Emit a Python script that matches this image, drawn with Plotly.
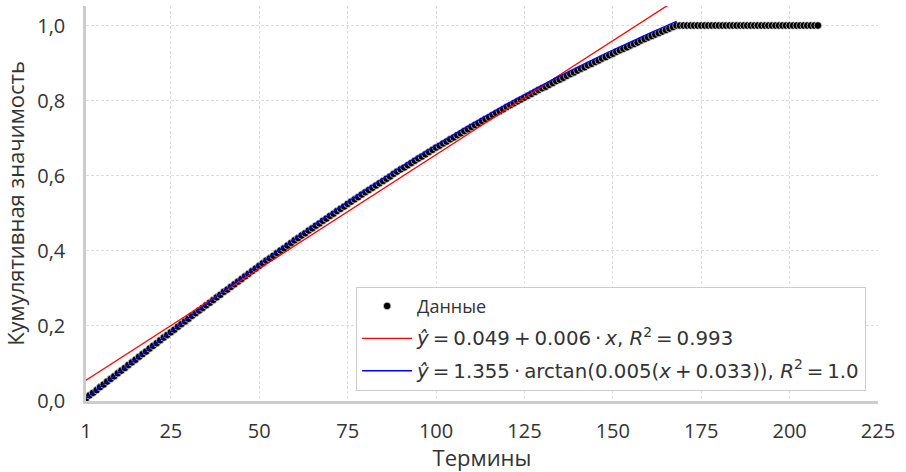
import numpy as np
import plotly.graph_objects as go

# ---- data ----
rising = [
    0.007, 0.015, 0.022, 0.029, 0.037, 0.044, 0.052, 0.059, 0.066, 0.074,
    0.081, 0.088, 0.096, 0.103, 0.110, 0.118, 0.125, 0.132, 0.140, 0.147,
    0.154, 0.162, 0.169, 0.176, 0.183, 0.190, 0.198, 0.205, 0.212, 0.219,
    0.227, 0.234, 0.241, 0.248, 0.255, 0.262, 0.269, 0.276, 0.283, 0.291,
    0.297, 0.304, 0.311, 0.318, 0.325, 0.332, 0.339, 0.346, 0.353, 0.360,
    0.367, 0.374, 0.380, 0.387, 0.394, 0.401, 0.407, 0.414, 0.421, 0.428,
    0.434, 0.441, 0.447, 0.454, 0.460, 0.467, 0.473, 0.480, 0.486, 0.493,
    0.499, 0.506, 0.512, 0.518, 0.525, 0.531, 0.537, 0.543, 0.550, 0.556,
    0.562, 0.568, 0.574, 0.580, 0.586, 0.592, 0.598, 0.605, 0.611, 0.617,
    0.622, 0.628, 0.634, 0.640, 0.646, 0.651, 0.657, 0.663, 0.669, 0.675,
    0.680, 0.686, 0.691, 0.697, 0.702, 0.708, 0.713, 0.719, 0.724, 0.730,
    0.735, 0.740, 0.746, 0.751, 0.756, 0.762, 0.767, 0.772, 0.777, 0.783,
    0.788, 0.793, 0.798, 0.803, 0.808, 0.813, 0.818, 0.823, 0.828, 0.833,
    0.837, 0.842, 0.847, 0.852, 0.856, 0.861, 0.866, 0.871, 0.875, 0.880,
    0.885, 0.889, 0.894, 0.898, 0.903, 0.907, 0.912, 0.916, 0.921, 0.925,
    0.930, 0.934, 0.938, 0.942, 0.947, 0.951, 0.955, 0.960, 0.964, 0.968,
    0.972, 0.976, 0.980, 0.984, 0.988, 0.992, 0.996, 1.000,
]
plateau = [1.0] * 40
values = rising + plateau
terms = list(range(1, len(values) + 1))

# fitted models (parameters of the fits shown in the legend)
lin_a, lin_b = 0.049, 0.00607
atan_a, atan_b, atan_c = 1.355, 0.0055, 0.033
fit_end = 168

x_ticks = [1, 25, 50, 75, 100, 125, 150, 175, 200, 225]
y_ticks = [0.0, 0.2, 0.4, 0.6, 0.8, 1.0]
y_tick_text = ["0,0", "0,2", "0,4", "0,6", "0,8", "1,0"]

T = "\u2009"  # thin space, like math spacing
lin_label = (f"<i>ŷ</i>{T}={T}0.049{T}+{T}0.006{T}·{T}<i>x</i>, "
             f"<i>R</i><sup>2</sup>{T}={T}0.993")
atan_label = (f"<i>ŷ</i>{T}={T}1.355{T}·{T}arctan(0.005(<i>x</i>{T}+{T}0.033)), "
              f"<i>R</i><sup>2</sup>{T}={T}1.0")

fx = np.linspace(1, fit_end, 300)
lin_y = lin_a + lin_b * fx
atan_y = atan_a * np.arctan(atan_b * (fx + atan_c))

MATH = '<span style="font-family:\'DejaVu Sans\';font-size:19.8px">{}</span>'

fig = go.Figure()
fig.add_trace(go.Scatter(
    x=terms, y=values, mode="markers", name="Данные",
    marker=dict(color="black", size=7.5, line=dict(width=0.6, color="white")),
    legendgroup="a"))
fig.add_trace(go.Scatter(
    x=fx, y=lin_y, mode="lines", name=MATH.format(lin_label),
    line=dict(color="red", width=1.3), legendgroup="b"))
fig.add_trace(go.Scatter(
    x=fx, y=atan_y, mode="lines", name=MATH.format(atan_label),
    line=dict(color="blue", width=1.3), legendgroup="c"))

axis_common = dict(
    showgrid=True, gridcolor="#dddddd", griddash="3px,2px", gridwidth=1,
    zeroline=False, showline=True, linecolor="#cccccc", linewidth=2.5,
    ticks="outside", tickcolor="rgba(0,0,0,0)",
    tickfont=dict(family="Open Sans", size=20, color="#333333"),
    automargin=False,
)

fig.update_xaxes(range=[1, 225], tickvals=x_ticks, ticklen=10,
                 title=dict(text="Термины", standoff=6,
                            font=dict(family="Open Sans", size=22, color="#333333")),
                 **axis_common)
fig.update_yaxes(range=[0, 1.052], tickvals=y_ticks, ticktext=y_tick_text,
                 ticklen=14,
                 title=dict(text="Кумулятивная значимость", standoff=12,
                            font=dict(family="Open Sans", size=22, color="#333333")),
                 **axis_common)

fig.update_layout(
    width=906, height=472,
    margin=dict(l=86, r=28, t=6, b=71),
    plot_bgcolor="white", paper_bgcolor="white",
    font=dict(family="Open Sans", color="#333333"),
    legend=dict(
        x=0.985, y=0.026, xanchor="right", yanchor="bottom",
        bgcolor="white", bordercolor="#cccccc", borderwidth=1,
        font=dict(family="Open Sans", size=18, color="#333333"),
        tracegroupgap=6, itemwidth=50,
    ),
)

fig.write_html("out.html",
               config={"displayModeBar": False},
               post_script="document.body.style.margin='0';"
                           "document.body.style.overflow='hidden';")
